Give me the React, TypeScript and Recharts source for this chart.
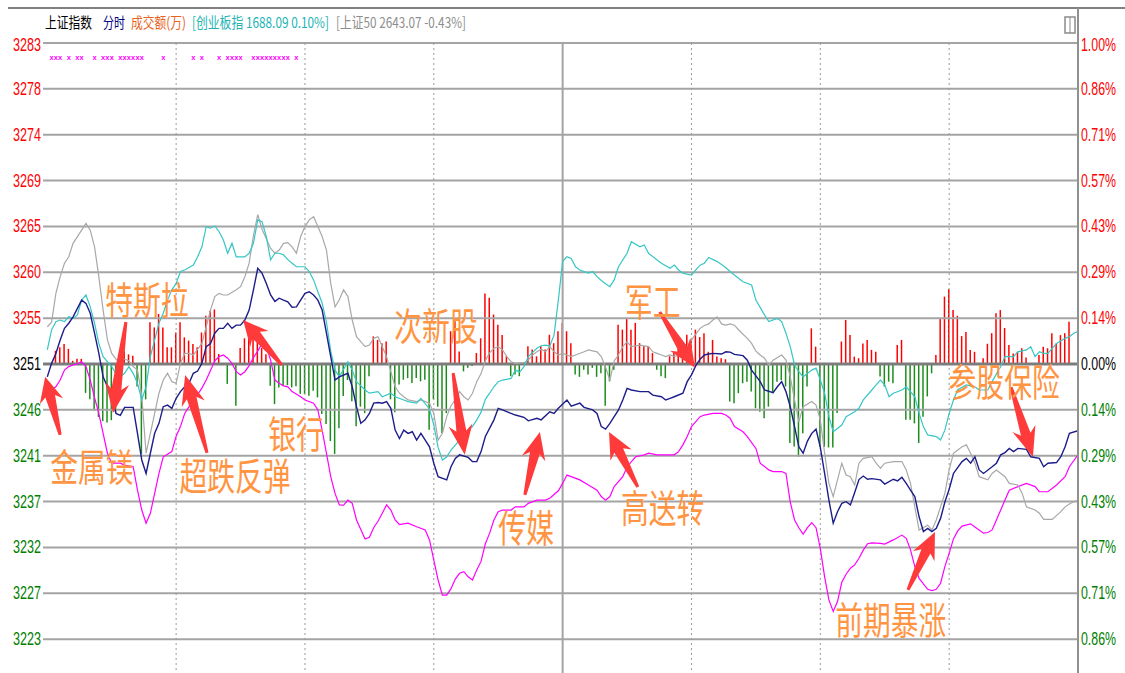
import React from 'react';
import { Bar, Cell, ComposedChart, Line, ReferenceDot, ReferenceLine, Scatter, XAxis, YAxis } from 'recharts';

// y axis: % change vs previous close (3250.6)
const tickSteps = [-6, -5, -4, -3, -2, -1, 0, 1, 2, 3, 4, 5, 6, 7];
const pctTicks = tickSteps.map((k) => k / 7);
const leftTickLabels = ['3223', '3227', '3232', '3237', '3241', '3246', '3251', '3255', '3260', '3265', '3269', '3274', '3278', '3283'];
const rightTickLabels = ['0.86%', '0.71%', '0.57%', '0.43%', '0.29%', '0.14%', '0.00%', '0.14%', '0.29%', '0.43%', '0.57%', '0.71%', '0.86%', '1.00%'];
const halfHourLines = [30, 60, 90, 150, 180, 210];
const noonLine = 120;

// [minute, % change]
const shanghai: [number, number][] = [
  [0, -0.04], [1, 0.002], [2, 0.033], [3, 0.075], [4, 0.111], [5, 0.127], [6, 0.147], [8, 0.199], [9, 0.189], [10, 0.158],
  [11, 0.096], [12, 0.033], [13, -0.04], [15, -0.102], [16, -0.154], [17, -0.16], [18, -0.135], [20, -0.135], [21, -0.216],
  [22, -0.299], [23, -0.341], [24, -0.278], [25, -0.216], [26, -0.185], [27, -0.133], [28, -0.128], [29, -0.138], [30, -0.107],
  [31, -0.086], [32, -0.071], [33, -0.06], [34, -0.029], [35, -0.022], [36, 0.002], [37, 0.054], [38, 0.064], [39, 0.096],
  [40, 0.111], [41, 0.111], [42, 0.127], [43, 0.111], [44, 0.121], [45, 0.121], [46, 0.137], [47, 0.168], [48, 0.231],
  [49, 0.298], [50, 0.283], [51, 0.251], [52, 0.215], [53, 0.195], [54, 0.205], [55, 0.199], [56, 0.194], [57, 0.177],
  [58, 0.178], [60, 0.22], [61, 0.225], [62, 0.215], [63, 0.199], [64, 0.168], [65, 0.096], [66, 0.023], [67, -0.05],
  [68, -0.04], [70, -0.029], [71, -0.071], [72, -0.133], [73, -0.185], [74, -0.174], [75, -0.154], [76, -0.122], [77, -0.12],
  [78, -0.122], [79, -0.117], [80, -0.138], [81, -0.206], [82, -0.232], [83, -0.206], [84, -0.216], [85, -0.211], [86, -0.237],
  [87, -0.216], [88, -0.237], [89, -0.258], [90, -0.309], [91, -0.351], [93, -0.361], [94, -0.32], [95, -0.294], [96, -0.283],
  [98, -0.291], [99, -0.304], [100, -0.304], [101, -0.273], [102, -0.226], [104, -0.174], [105, -0.138], [106, -0.143],
  [108, -0.154], [109, -0.159], [111, -0.166], [112, -0.177], [114, -0.169], [115, -0.174], [117, -0.149], [118, -0.154],
  [119, -0.138], [121, -0.112], [122, -0.131], [124, -0.122], [125, -0.135], [127, -0.143], [128, -0.154], [129, -0.195],
  [130, -0.203], [131, -0.185], [133, -0.143], [134, -0.112], [135, -0.076], [136, -0.081], [138, -0.086], [140, -0.086],
  [141, -0.097], [143, -0.102], [144, -0.112], [145, -0.107], [146, -0.102], [148, -0.091], [149, -0.055], [150, -0.034],
  [151, -0.005], [152, 0.015], [153, 0.028], [154, 0.031], [155, 0.033], [157, 0.031], [158, 0.038], [159, 0.037], [160, 0.03],
  [162, 0.026], [163, 0.012], [164, -0.019], [166, -0.055], [167, -0.081], [169, -0.089], [170, -0.071], [171, -0.055],
  [172, -0.086], [173, -0.133], [174, -0.195], [175, -0.258], [176, -0.278], [177, -0.24], [178, -0.216], [179, -0.203],
  [180, -0.26], [181, -0.341], [182, -0.424], [183, -0.496], [184, -0.46], [185, -0.434], [186, -0.429], [187, -0.439],
  [188, -0.4], [189, -0.36], [190, -0.349], [191, -0.359], [192, -0.357], [194, -0.361], [195, -0.374], [197, -0.359],
  [198, -0.364], [199, -0.353], [200, -0.372], [201, -0.393], [202, -0.413], [203, -0.476], [204, -0.522], [205, -0.512],
  [206, -0.522], [207, -0.512], [208, -0.481], [209, -0.43], [210, -0.39], [211, -0.341], [213, -0.304], [214, -0.294],
  [215, -0.309], [216, -0.289], [217, -0.33], [218, -0.341], [220, -0.32], [221, -0.309], [222, -0.283], [223, -0.276],
  [224, -0.263], [225, -0.273], [226, -0.263], [228, -0.266], [229, -0.289], [231, -0.294], [232, -0.32], [233, -0.309],
  [235, -0.307], [236, -0.289], [237, -0.258], [238, -0.216], [240, -0.208],
];

const chinext: [number, number][] = [
  [0, 0.044], [1, 0.106], [2, 0.132], [3, 0.137], [4, 0.132], [5, 0.147], [6, 0.142], [7, 0.153], [8, 0.199], [9, 0.215],
  [10, 0.178], [11, 0.127], [12, 0.064], [13, 0.023], [15, -0.008], [16, -0.03], [17, -0.04], [18, -0.029], [19, -0.008],
  [20, -0.029], [21, -0.06], [22, -0.112], [23, -0.071], [24, 0.023], [25, 0.075], [26, 0.127], [27, 0.158], [28, 0.199],
  [29, 0.231], [30, 0.251], [31, 0.288], [32, 0.293], [34, 0.308], [35, 0.334], [36, 0.365], [37, 0.428], [38, 0.423],
  [39, 0.43], [40, 0.412], [41, 0.386], [42, 0.345], [43, 0.376], [44, 0.334], [46, 0.334], [47, 0.345], [48, 0.376],
  [49, 0.449], [50, 0.443], [51, 0.397], [52, 0.324], [53, 0.345], [54, 0.345], [55, 0.34], [56, 0.325], [57, 0.314],
  [58, 0.303], [60, 0.303], [61, 0.288], [62, 0.262], [63, 0.225], [64, 0.19], [65, 0.13], [66, 0.04], [67, -0.019],
  [68, -0.04], [70, 0.007], [71, -0.019], [72, -0.055], [74, -0.081], [75, -0.091], [77, -0.086], [78, -0.102], [80, -0.091],
  [81, -0.102], [83, -0.112], [84, -0.117], [86, -0.122], [87, -0.107], [89, -0.14], [90, -0.19], [91, -0.26], [92, -0.299],
  [93, -0.29], [94, -0.268], [96, -0.237], [97, -0.216], [98, -0.206], [99, -0.195], [100, -0.174], [101, -0.15], [102, -0.11],
  [103, -0.091], [104, -0.071], [105, -0.055], [106, -0.05], [108, -0.045], [109, -0.019], [110, -0.025], [111, -0.008],
  [112, 0.023], [114, 0.049], [115, 0.057], [116, 0.059], [117, 0.056], [118, 0.09], [119, 0.199], [120, 0.32], [121, 0.334],
  [122, 0.329], [123, 0.303], [124, 0.293], [126, 0.283], [127, 0.288], [128, 0.272], [129, 0.26], [130, 0.25], [131, 0.241],
  [132, 0.262], [133, 0.303], [135, 0.345], [136, 0.381], [138, 0.365], [139, 0.371], [140, 0.345], [142, 0.324], [143, 0.314],
  [145, 0.298], [146, 0.308], [147, 0.293], [148, 0.283], [150, 0.277], [151, 0.293], [152, 0.308], [153, 0.314], [154, 0.332],
  [156, 0.319], [157, 0.31], [158, 0.3], [159, 0.288], [160, 0.277], [162, 0.256], [164, 0.246], [165, 0.199], [167, 0.153],
  [168, 0.132], [170, 0.142], [171, 0.132], [172, 0.096], [173, 0.054], [174, -0.003], [175, -0.024], [176, -0.04],
  [178, -0.019], [179, -0.013], [180, -0.05], [181, -0.091], [182, -0.164], [183, -0.211], [185, -0.19], [186, -0.164],
  [188, -0.149], [189, -0.138], [190, -0.112], [192, -0.081], [193, -0.065], [194, -0.05], [195, -0.065], [196, -0.102],
  [197, -0.091], [199, -0.081], [200, -0.071], [202, -0.102], [203, -0.154], [204, -0.195], [205, -0.221], [207, -0.226],
  [208, -0.237], [209, -0.206], [210, -0.154], [211, -0.112], [212, -0.08], [214, -0.065], [216, -0.071], [217, -0.081],
  [219, -0.081], [220, -0.055], [222, -0.008], [223, 0.023], [225, 0.023], [226, 0.038], [228, 0.044], [229, 0.054],
  [230, 0.023], [231, 0.038], [232, 0.033], [233, 0.033], [234, 0.049], [235, 0.064], [237, 0.08], [238, 0.085], [239, 0.096],
  [240, 0.101],
];

const sse50: [number, number][] = [
  [0, 0.116], [1, 0.13], [2, 0.22], [3, 0.272], [4, 0.314], [5, 0.334], [6, 0.376], [8, 0.417], [9, 0.438], [10, 0.417],
  [11, 0.365], [12, 0.272], [13, 0.168], [14, 0.075], [15, 0.033], [16, 0.015], [17, 0.002], [18, 0.015], [19, 0.01],
  [20, -0.008], [21, -0.019], [22, -0.1], [23, -0.278], [24, -0.216], [25, -0.154], [26, -0.091], [27, -0.05], [28, -0.029],
  [29, -0.055], [30, -0.06], [31, 0.002], [32, 0.033], [33, 0.033], [34, 0.028], [36, 0.064], [37, 0.116], [38, 0.168],
  [39, 0.21], [40, 0.22], [41, 0.215], [42, 0.215], [44, 0.231], [45, 0.241], [46, 0.272], [47, 0.314], [48, 0.4], [49, 0.465],
  [50, 0.42], [51, 0.39], [52, 0.36], [53, 0.345], [54, 0.355], [55, 0.376], [56, 0.378], [57, 0.365], [58, 0.345], [59, 0.397],
  [60, 0.428], [61, 0.449], [62, 0.459], [63, 0.428], [64, 0.397], [65, 0.355], [66, 0.251], [67, 0.178], [68, 0.2], [69, 0.231],
  [70, 0.21], [71, 0.137], [72, 0.085], [74, 0.054], [75, 0.059], [76, 0.08], [77, 0.085], [78, 0.054], [79, 0.023],
  [81, -0.071], [82, -0.091], [83, -0.102], [84, -0.112], [86, -0.117], [87, -0.112], [89, -0.122], [90, -0.154], [91, -0.237],
  [92, -0.216], [93, -0.164], [94, -0.13], [95, -0.112], [96, -0.086], [97, -0.102], [98, -0.112], [99, -0.091], [100, -0.055],
  [101, -0.03], [102, 0.01], [103, 0.035], [104, 0.049], [105, 0.054], [106, 0.044], [107, 0.023], [108, 0.007], [109, 0.002],
  [111, 0.004], [112, 0.012], [113, 0.028], [114, 0.038], [115, 0.046], [116, 0.038], [117, 0.054], [118, 0.038], [119, 0.028],
  [120, 0.033], [122, 0.023], [123, 0.028], [125, 0.038], [126, 0.044], [128, 0.038], [129, 0.023], [130, -0.01], [131, -0.05],
  [132, 0.01], [133, 0.028], [134, 0.054], [135, 0.069], [136, 0.054], [138, 0.059], [140, 0.054], [141, 0.038], [142, 0.033],
  [143, 0.028], [144, 0.023], [145, 0.028], [146, 0.023], [148, 0.033], [149, 0.054], [150, 0.075], [152, 0.111], [153, 0.12],
  [154, 0.125], [155, 0.137], [156, 0.147], [157, 0.125], [158, 0.121], [159, 0.125], [160, 0.121], [161, 0.106], [163, 0.08],
  [164, 0.064], [165, 0.04], [166, 0.028], [167, 0.018], [168, -0.003], [169, 0.012], [171, 0.028], [172, 0.012], [173, -0.04],
  [174, -0.112], [175, -0.18], [176, -0.133], [178, -0.117], [179, -0.128], [180, -0.174], [181, -0.278], [182, -0.372],
  [183, -0.413], [185, -0.309], [186, -0.346], [187, -0.351], [188, -0.377], [189, -0.309], [190, -0.294], [192, -0.289],
  [193, -0.309], [194, -0.325], [195, -0.309], [197, -0.304], [199, -0.304], [200, -0.33], [201, -0.372], [202, -0.445],
  [203, -0.517], [205, -0.502], [206, -0.517], [207, -0.486], [209, -0.403], [210, -0.33], [211, -0.278], [213, -0.258],
  [214, -0.252], [215, -0.278], [216, -0.309], [217, -0.351], [219, -0.361], [220, -0.341], [221, -0.33], [223, -0.351],
  [224, -0.372], [226, -0.377], [227, -0.403], [228, -0.445], [230, -0.455], [231, -0.465], [232, -0.484], [234, -0.484],
  [236, -0.46], [237, -0.445], [238, -0.436], [239, -0.429], [240, -0.425],
];

const sector: [number, number][] = [
  [0, -0.086], [1, -0.081], [2, -0.071], [3, -0.05], [4, -0.019], [5, -0.008], [6, -0.003], [7, 0], [8, 0.007], [9, -0.008],
  [10, -0.05], [11, -0.105], [12, -0.154], [13, -0.216], [14, -0.278], [15, -0.309], [17, -0.309], [18, -0.315], [20, -0.32],
  [21, -0.393], [22, -0.455], [23, -0.496], [24, -0.465], [25, -0.403], [26, -0.341], [27, -0.289], [29, -0.273], [30, -0.225],
  [31, -0.195], [32, -0.154], [33, -0.133], [34, -0.102], [35, -0.095], [36, -0.075], [37, -0.05], [38, -0.02], [39, 0.01],
  [40, 0.023], [41, 0.028], [42, 0.018], [43, 0.002], [44, -0.024], [45, -0.034], [46, -0.024], [47, -0.005], [48, 0.02],
  [49, 0.04], [50, 0.064], [51, 0.054], [52, 0.012], [53, -0.05], [54, -0.06], [55, -0.068], [56, -0.071], [57, -0.086],
  [59, -0.102], [60, -0.112], [62, -0.122], [63, -0.143], [64, -0.206], [65, -0.278], [66, -0.351], [67, -0.403], [68, -0.439],
  [69, -0.44], [70, -0.424], [71, -0.434], [72, -0.486], [74, -0.545], [75, -0.54], [76, -0.51], [77, -0.49], [78, -0.465],
  [79, -0.439], [80, -0.455], [81, -0.486], [82, -0.5], [84, -0.496], [86, -0.507], [88, -0.517], [89, -0.548], [90, -0.611],
  [91, -0.673], [92, -0.72], [93, -0.72], [94, -0.7], [95, -0.67], [96, -0.652], [97, -0.647], [98, -0.663], [99, -0.673],
  [100, -0.642], [101, -0.615], [102, -0.56], [103, -0.527], [104, -0.486], [105, -0.46], [106, -0.455], [108, -0.455],
  [109, -0.445], [111, -0.445], [112, -0.434], [114, -0.424], [116, -0.424], [117, -0.418], [119, -0.395], [120, -0.372],
  [121, -0.346], [122, -0.351], [124, -0.361], [126, -0.377], [128, -0.393], [129, -0.413], [130, -0.424], [131, -0.413],
  [132, -0.382], [134, -0.351], [135, -0.32], [137, -0.289], [139, -0.283], [140, -0.278], [142, -0.283], [144, -0.283],
  [146, -0.283], [147, -0.273], [148, -0.252], [149, -0.226], [150, -0.195], [152, -0.164], [153, -0.159], [155, -0.154],
  [157, -0.154], [158, -0.159], [159, -0.169], [160, -0.195], [162, -0.211], [163, -0.226], [165, -0.263], [166, -0.309],
  [168, -0.33], [169, -0.335], [171, -0.335], [172, -0.341], [173, -0.43], [174, -0.486], [175, -0.51], [176, -0.53],
  [177, -0.51], [178, -0.494], [179, -0.51], [180, -0.575], [181, -0.663], [182, -0.735], [183, -0.771], [184, -0.74],
  [185, -0.68], [186, -0.655], [187, -0.636], [188, -0.626], [189, -0.605], [190, -0.58], [191, -0.56], [192, -0.557],
  [194, -0.559], [195, -0.561], [197, -0.548], [199, -0.533], [200, -0.543], [201, -0.579], [202, -0.631], [203, -0.668],
  [205, -0.702], [206, -0.706], [207, -0.702], [208, -0.683], [209, -0.631], [210, -0.59], [211, -0.545], [212, -0.52],
  [213, -0.505], [215, -0.498], [216, -0.508], [218, -0.527], [219, -0.525], [220, -0.517], [221, -0.486], [222, -0.455],
  [223, -0.424], [224, -0.393], [226, -0.382], [228, -0.372], [230, -0.382], [231, -0.398], [233, -0.398], [235, -0.377],
  [237, -0.351], [238, -0.32], [240, -0.283],
];

// red/green columns around the zero line, [minute, value]
const flow: [number, number][] = [
  [2, 4.1], [3, 5.2], [4, 6.2], [5, 4.7], [6, 1], [7, 1.6], [8, 1.6], [9, -9], [10, -11], [11, -14.5], [12, -16.5], [13, -17.8],
  [14, -18.2], [15, -17.5], [16, -15], [18, 4], [19, 3], [20, 2.6], [21, -7], [22, -28], [23, -11], [24, 13], [25, 11.4],
  [26, 15.6], [27, 11.4], [28, 5.2], [29, 5.2], [30, 9.8], [31, 13], [32, 8.3], [33, 7.3], [34, 6.2], [35, 5.2], [36, 9.8],
  [37, 15], [38, 16.6], [39, 17], [40, 3.1], [42, -6.2], [44, -13], [45, 5], [46, 8], [47, 10], [48, 12], [49, 11], [50, 5],
  [51, 3], [52, -6.8], [53, -12.5], [54, -7.3], [55, -6.6], [56, -6.6], [57, -7.3], [58, -6.9], [59, -9.3], [60, -9.3],
  [61, -9.9], [62, -8.3], [63, -10.4], [64, -15.6], [65, -18.7], [66, -24], [67, -28], [68, -20], [69, -10], [70, -5],
  [71, -11.6], [72, -19.4], [73, -13.3], [74, -15.3], [75, -3.8], [76, 8.6], [77, 7.5], [78, 6.5], [79, 7], [80, -11],
  [81, -15], [82, -6.4], [83, -4.9], [84, -4.4], [85, -5.9], [86, -4.4], [87, -5.4], [88, -4.9], [89, -20.5], [90, -11],
  [91, -13.3], [92, -21.5], [93, -15.3], [94, 10.2], [95, 13.3], [96, 3.9], [97, -2.3], [98, -1.2], [99, -0.6], [100, 3.4],
  [101, 8], [102, 22], [103, 20.6], [104, 15.4], [105, 12.2], [106, 9], [107, 2.4], [108, -3.8], [109, -3.3], [110, -3.8],
  [112, 5.5], [113, 4.5], [114, 2.4], [115, 5.5], [116, 4.5], [117, 9.1], [118, 6.5], [119, 10.2], [120, 12.8], [121, 10.2],
  [122, 6.5], [123, -3.3], [124, -4], [125, -1.8], [126, -3.3], [127, -1.2], [128, -4], [129, -2.9], [130, -13], [131, -5.4],
  [132, -1.8], [133, 12.2], [134, 10.7], [135, 14.3], [136, 10.7], [137, 12.8], [138, 6.5], [139, 5.5], [140, 5.5], [141, 3.4],
  [142, -1.8], [143, -3.8], [144, -4.4], [145, 2.4], [146, 3.4], [147, 6.5], [148, 3.4], [149, 9.1], [150, 7.6], [151, 10.7],
  [152, 8.4], [153, 9.6], [154, 3.8], [155, 7.5], [156, 2.3], [157, 1.8], [158, 1.5], [159, -11.7], [160, -12.2], [161, -9.1],
  [162, -6], [163, -5.5], [164, -8.6], [165, -13.8], [166, -14.9], [167, -16.9], [168, -13.3], [169, -9.1], [170, -5.5],
  [171, -5], [172, -7], [173, -24.6], [174, -25.7], [175, -28.9], [176, -21.6], [177, -7], [178, 11.1], [179, 5.4],
  [180, -25.8], [181, -25.8], [182, -26], [183, -26], [184, -15.3], [185, 7], [186, 13.7], [187, 9], [188, 2.3], [189, 1.8],
  [190, 6.4], [191, 7.5], [192, 4.4], [193, 3.8], [194, -3.9], [195, -7], [196, -5.5], [197, -6], [198, 5.9], [199, 7.5],
  [200, -17.4], [201, -17.4], [202, -18.5], [203, -24.6], [204, -16.4], [205, -10.1], [206, -2.9], [207, 2.8], [208, 14.2],
  [209, 21], [210, 23.3], [211, 16.8], [212, 15], [213, 8.7], [214, 10], [215, 4.4], [216, 3.8], [218, 1.8], [219, 6.3],
  [220, 9.6], [221, 15.8], [222, 16.8], [223, 11.2], [224, 5.9], [225, 3.3], [226, 3.8], [227, 4.9], [228, 2], [231, 2.8],
  [232, 5.4], [233, 4.9], [234, 9.6], [235, 6.4], [236, 9], [237, 9.6], [238, 13.2],
];

const signalMinutes = [1, 2, 3, 5, 7, 8, 11, 13, 14, 15, 17, 18, 19, 20, 21, 22, 27, 34, 36, 40, 42, 43, 44, 45, 48, 49, 50, 51, 52, 53, 54, 55, 56, 58];
const signalLevel = 0.956;

// hand-drawn notes: label centre and arrow tail -> tip, in [minute, %]
const notes = [
  { text: '金属镁', at: [10.4, -0.324] },
  { text: '特斯拉', at: [23.2, 0.196] },
  { text: '超跌反弹', at: [43.7, -0.352] },
  { text: '银行', at: [57.9, -0.221] },
  { text: '次新股', at: [90.5, 0.115] },
  { text: '传媒', at: [111.5, -0.514] },
  { text: '军工', at: [141, 0.19] },
  { text: '高送转', at: [143.3, -0.452] },
  { text: '前期暴涨', at: [196.4, -0.801] },
  { text: '参股保险', at: [222.8, -0.059] },
];
const arrows = [
  { from: [3, -0.221], to: [-0.5, -0.04] },
  { from: [18.3, 0.131], to: [15.3, -0.153] },
  { from: [37.2, -0.277], to: [32.1, -0.034] },
  { from: [54.6, -0.003], to: [45.6, 0.137] },
  { from: [94.5, -0.028], to: [97.2, -0.283] },
  { from: [111.2, -0.408], to: [114.7, -0.212] },
  { from: [137.5, -0.383], to: [130.8, -0.212] },
  { from: [142.6, 0.162], to: [150.8, -0.012] },
  { from: [224.4, -0.072], to: [229.5, -0.29] },
  { from: [200.4, -0.704], to: [206.7, -0.523] },
];

const UP = '#ff0000';
const DOWN = '#1d8c1d';
const GRID = '#a4a4a4';
const NOTE = '#ff9442';
const ARROW = '#ff3a3a';

const shMap = new Map(shanghai);
const cyMap = new Map(chinext);
const gyMap = new Map(sse50);
const mgMap = new Map(sector);
const flowMap = new Map(flow);

const rows = Array.from({ length: 241 }, (_, t) => ({
  t,
  sh: shMap.get(t) ?? null,
  cy: cyMap.get(t) ?? null,
  gy: gyMap.get(t) ?? null,
  mg: mgMap.get(t) ?? null,
  flow: flowMap.get(t) ?? null,
}));
const signalRows = signalMinutes.map((t) => ({ t, sig: signalLevel }));

const tickIndex = (v: number) => {
  let best = 0;
  pctTicks.forEach((p, i) => {
    if (Math.abs(p - v) < Math.abs(pctTicks[best] - v)) best = i;
  });
  return best;
};
const tickColor = (i: number) => (tickSteps[i] > 0 ? '#ff0000' : tickSteps[i] < 0 ? '#008000' : '#000000');

// narrow figures: glyphs squeezed horizontally like the terminal's bitmap font
const SQ = 0.7;

// plot area: x 43..1078, y 43..685; both scales share one tick renderer
const AxisTick = (props: any) => {
  const i = tickIndex(props.payload.value);
  const y = props.y + (i === pctTicks.length - 1 ? 2 : 0);
  return (
    <g transform={`scale(${SQ},1)`}>
      <text x={41 / SQ} y={y} dy={6} textAnchor="end" fill={tickColor(i)} fontSize={18} fontFamily="Liberation Sans, Arial"
        textLength={28 / SQ} lengthAdjust="spacingAndGlyphs">
        {leftTickLabels[i]}
      </text>
      <text x={1081 / SQ} y={y} dy={6} textAnchor="start" fill={tickColor(i)} fontSize={18} fontFamily="Liberation Sans, Arial"
        textLength={35 / SQ} lengthAdjust="spacingAndGlyphs">
        {rightTickLabels[i]}
      </text>
    </g>
  );
};

const SignalMark = (props: any) => (
  <text x={props.cx} y={props.cy} dy={3} textAnchor="middle" fill="#ff00ff" fontSize={7.5} fontWeight="bold"
    fontFamily="Liberation Sans, Arial">
    x
  </text>
);

const ArrowShape = (p: any) => {
  const { x1, y1, x2, y2 } = p;
  const dx = x2 - x1;
  const dy = y2 - y1;
  const len = Math.hypot(dx, dy) || 1;
  const ux = dx / len;
  const uy = dy / len;
  const nx = -uy;
  const ny = ux;
  const head = Math.min(30, len * 0.42);
  const bx = x2 - ux * head;
  const by = y2 - uy * head;
  const sx = x2 - ux * head * 0.8;
  const sy = y2 - uy * head * 0.8;
  const pts = [
    [x1 + nx * 1.5, y1 + ny * 1.5],
    [sx + nx * 5, sy + ny * 5],
    [bx + nx * 12, by + ny * 12],
    [x2, y2],
    [bx - nx * 12, by - ny * 12],
    [sx - nx * 5, sy - ny * 5],
    [x1 - nx * 1.5, y1 - ny * 1.5],
  ];
  return <polygon points={pts.map((q) => q.join(',')).join(' ')} fill={ARROW} />;
};

// tall, narrow handwriting-style labels
const NOTE_SX = 0.73;
const noteShape = (text: string) => (p: any) => (
  <g transform={`translate(${p.cx},${p.cy}) scale(${NOTE_SX},1)`}>
    <text x={0} y={0} dy={13} textAnchor="middle" fill={NOTE} fontSize={38} fontFamily="Noto Sans CJK SC, sans-serif"
      textLength={(text.length * 27.8) / NOTE_SX} lengthAdjust="spacingAndGlyphs">
      {text}
    </text>
  </g>
);

const HEAD_SX = 0.8;
const header = [
  { text: '上证指数', x: 45, w: 47, color: '#000000' },
  { text: '分时', x: 103, w: 22, color: '#000080' },
  { text: '成交额(万)', x: 131, w: 55, color: '#e8641e' },
  { text: '[创业板指 1688.09 0.10%]', x: 192, w: 137, color: '#22b4b4' },
  { text: '[上证50 2643.07 -0.43%]', x: 336, w: 130, color: '#8e8e8e' },
];

export default function App() {
  return (
    <div style={{ position: 'absolute', left: 0, top: 0, width: 1125, height: 673, overflow: 'hidden', background: '#fff' }}>
      <ComposedChart width={1125} height={690} data={rows} margin={{ top: 43, right: 0, bottom: 5, left: 0 }}>
        <XAxis dataKey="t" type="number" domain={[-1, 240]} hide allowDataOverflow />
        <YAxis yAxisId="left" type="number" domain={[-1, 1]} ticks={pctTicks} interval={0} width={43}
          axisLine={{ stroke: GRID, strokeWidth: 2 }} tickLine={false} tick={AxisTick} allowDataOverflow />
        <YAxis yAxisId="right" orientation="right" type="number" domain={[-1, 1]} width={47}
          axisLine={{ stroke: '#909090', strokeWidth: 2 }} tickLine={false} tick={false} />
        <YAxis yAxisId="flow" type="number" domain={[-100, 100]} hide />

        {pctTicks.filter((p) => p !== 0).map((p) => (
          <ReferenceLine key={p} yAxisId="left" y={p} stroke={GRID} strokeWidth={2} />
        ))}
        {halfHourLines.map((m) => (
          <ReferenceLine key={m} yAxisId="left" x={m} stroke="#9a9a9a" strokeWidth={1} strokeDasharray="2 3" />
        ))}
        <ReferenceLine yAxisId="left" x={noonLine} stroke={GRID} strokeWidth={2} />

        <Bar yAxisId="flow" dataKey="flow" barSize={1.5} isAnimationActive={false}>
          {rows.map((r) => (
            <Cell key={r.t} fill={(r.flow ?? 0) >= 0 ? UP : DOWN} />
          ))}
        </Bar>
        <ReferenceLine yAxisId="left" y={0} stroke="#7c7c7c" strokeWidth={3} />

        <Line yAxisId="left" dataKey="mg" stroke="#ff00ff" strokeWidth={1.2} dot={false} connectNulls isAnimationActive={false} />
        <Line yAxisId="left" dataKey="gy" stroke="#a8a8a8" strokeWidth={1.2} dot={false} connectNulls isAnimationActive={false} />
        <Line yAxisId="left" dataKey="cy" stroke="#36c6c6" strokeWidth={1.2} dot={false} connectNulls isAnimationActive={false} />
        <Line yAxisId="left" dataKey="sh" stroke="#1c1c8a" strokeWidth={1.4} dot={false} connectNulls isAnimationActive={false} />
        <Scatter yAxisId="left" data={signalRows} dataKey="sig" shape={SignalMark} isAnimationActive={false} />

        {arrows.map((a, i) => (
          <ReferenceLine key={`a${i}`} yAxisId="left" ifOverflow="visible"
            segment={[{ x: a.from[0], y: a.from[1] }, { x: a.to[0], y: a.to[1] }]} shape={ArrowShape} />
        ))}
        {notes.map((n) => (
          <ReferenceDot key={n.text} yAxisId="left" x={n.at[0]} y={n.at[1]} r={0} ifOverflow="visible" shape={noteShape(n.text)} />
        ))}
      </ComposedChart>

      <svg width={1125} height={44} style={{ position: 'absolute', left: 0, top: 0 }}>
        <line x1={8} y1={8} x2={1125} y2={8} stroke="#808080" strokeWidth={2} />
        <line x1={1078} y1={8} x2={1078} y2={44} stroke="#909090" strokeWidth={2} />
        {header.map((h) => (
          <text key={h.text} x={h.x / HEAD_SX} y={28} transform={`scale(${HEAD_SX},1)`} fill={h.color} fontSize={15}
            fontFamily="Noto Sans CJK SC, sans-serif" textLength={h.w / HEAD_SX} lengthAdjust="spacingAndGlyphs">
            {h.text}
          </text>
        ))}
        <rect x={1065} y={17} width={10} height={16} fill="none" stroke="#8a8a8a" strokeWidth={1.5} />
        <line x1={1070} y1={17} x2={1070} y2={33} stroke="#8a8a8a" strokeWidth={1} />
      </svg>
    </div>
  );
}
